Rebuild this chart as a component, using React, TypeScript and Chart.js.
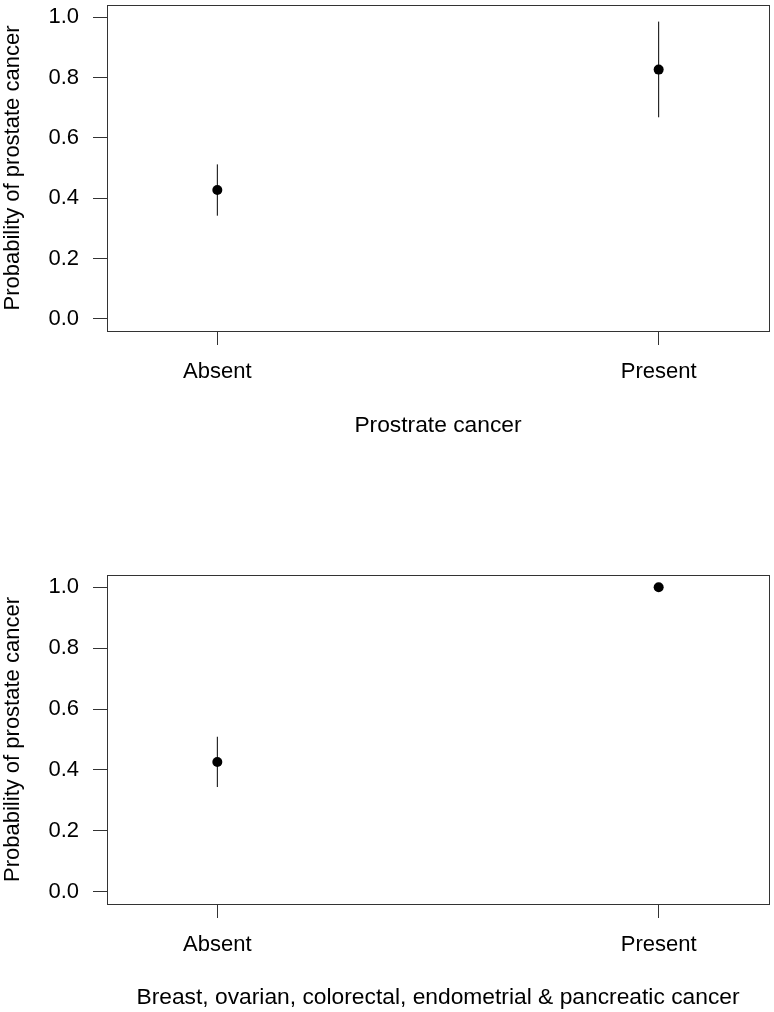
import React, { useEffect, useRef } from "react";
import { Chart, registerables } from "chart.js";

Chart.register(...registerables);

// ---- data ----
const categories = ["Absent", "Present"];
const yTickValues = [0, 0.2, 0.4, 0.6, 0.8, 1.0];
const yAxisTitle = "Probability of prostate cancer";

const prostateTitle = "Prostrate cancer";
const prostateEstimate = [0.427, 0.826];
const prostateLower = [0.342, 0.668];
const prostateUpper = [0.512, 0.985];

const otherTitle = "Breast, ovarian, colorectal, endometrial & pancreatic cancer";
const otherEstimate = [0.426, 1.0];
const otherLower = [0.344, 1.0];
const otherUpper = [0.509, 1.0];

// ---- styling ----
const FONT_FAMILY = "'Liberation Sans', Arial, Helvetica, sans-serif";
const FONT_SIZE = 22;
const X_TITLE_SIZE = 22.8;
const LINE_COLOR = "#333333";
const W = 774;
const PANEL_H = 506;

const boxPlugin = {
  id: "rbox",
  afterDraw(chart: any) {
    const { ctx, chartArea: a } = chart;
    ctx.save();
    ctx.strokeStyle = LINE_COLOR;
    ctx.lineWidth = 1;
    const l = Math.round(a.left);
    const t = Math.round(a.top);
    const r = Math.round(a.right);
    const b = Math.round(a.bottom);
    ctx.strokeRect(l + 0.5, t + 0.5, r - l, b - t);
    ctx.restore();
  },
};

function makeConfig(
  est: number[],
  lo: number[],
  hi: number[],
  xTitle: string,
  padTop: number,
  xHeight: number,
  titlePadBottom: number
): any {
  const font = { family: FONT_FAMILY, size: FONT_SIZE, weight: "normal" as const };
  const titleFont = { family: FONT_FAMILY, size: X_TITLE_SIZE, weight: "normal" as const };
  const errorSets = categories.map((_, i) => ({
    data: [
      { x: i + 1, y: lo[i] },
      { x: i + 1, y: hi[i] },
    ],
    showLine: true,
    borderColor: "#000000",
    borderWidth: 1,
    pointRadius: 0,
    pointHoverRadius: 0,
  }));
  const pointSet = {
    data: est.map((v, i) => ({ x: i + 1, y: v })),
    showLine: false,
    pointRadius: 5,
    pointHoverRadius: 5,
    pointBackgroundColor: "#000000",
    pointBorderWidth: 0,
    borderColor: "#000000",
  };
  return {
    type: "scatter",
    data: { datasets: [...errorSets, pointSet] },
    plugins: [boxPlugin],
    options: {
      responsive: false,
      maintainAspectRatio: false,
      devicePixelRatio: 1,
      animation: false,
      layout: { padding: { top: padTop, right: 2, left: 0, bottom: 0 } },
      plugins: { legend: { display: false }, tooltip: { enabled: false } },
      scales: {
        x: {
          type: "linear",
          min: 0.75,
          max: 2.25,
          afterBuildTicks: (s: any) => {
            s.ticks = categories.map((_, i) => ({ value: i + 1 }));
          },
          ticks: {
            callback: (v: any) => categories[Math.round(Number(v)) - 1] ?? "",
            font,
            color: "#000000",
            padding: 14,
            maxRotation: 0,
            autoSkip: false,
          },
          grid: {
            drawOnChartArea: false,
            drawTicks: true,
            tickLength: 14,
            color: LINE_COLOR,
            lineWidth: 1,
          },
          border: { display: false },
          title: {
            display: true,
            text: xTitle,
            font: titleFont,
            color: "#000000",
            padding: { top: 0, bottom: titlePadBottom },
          },
          afterFit: (s: any) => {
            s.height = xHeight;
            s.paddingLeft = 0;
            s.paddingRight = 0;
            s.paddingTop = 0;
            s.paddingBottom = 0;
          },
        },
        y: {
          type: "linear",
          min: -0.04,
          max: 1.04,
          afterBuildTicks: (s: any) => {
            s.ticks = yTickValues.map((v) => ({ value: v }));
          },
          ticks: {
            callback: (v: any) => Number(v).toFixed(1),
            font,
            color: "#000000",
            padding: 14,
            autoSkip: false,
          },
          grid: {
            drawOnChartArea: false,
            drawTicks: true,
            tickLength: 14,
            color: LINE_COLOR,
            lineWidth: 1,
          },
          border: { display: false },
          title: {
            display: true,
            text: yAxisTitle,
            font,
            color: "#000000",
            padding: { top: 0, bottom: 0 },
          },
          afterFit: (s: any) => {
            s.width = 107;
            s.paddingLeft = 0;
            s.paddingRight = 0;
            s.paddingTop = 0;
            s.paddingBottom = 0;
          },
        },
      },
    },
  };
}

function Panel(props: {
  est: number[];
  lo: number[];
  hi: number[];
  xTitle: string;
  padTop: number;
  xHeight: number;
  titlePadBottom: number;
}) {
  const ref = useRef<HTMLCanvasElement | null>(null);
  useEffect(() => {
    if (!ref.current) return;
    const chart = new Chart(
      ref.current,
      makeConfig(
        props.est,
        props.lo,
        props.hi,
        props.xTitle,
        props.padTop,
        props.xHeight,
        props.titlePadBottom
      )
    );
    return () => chart.destroy();
  }, []);
  return (
    <canvas
      ref={ref}
      width={W}
      height={PANEL_H}
      style={{ display: "block", width: W, height: PANEL_H }}
    />
  );
}

export default function App() {
  return (
    <div
      style={{
        position: "absolute",
        left: 0,
        top: 0,
        width: W,
        height: PANEL_H * 2,
        background: "#ffffff",
      }}
    >
      <Panel
        est={prostateEstimate}
        lo={prostateLower}
        hi={prostateUpper}
        xTitle={prostateTitle}
        padTop={3}
        xHeight={175}
        titlePadBottom={67}
      />
      <Panel
        est={otherEstimate}
        lo={otherLower}
        hi={otherUpper}
        xTitle={otherTitle}
        padTop={69}
        xHeight={108}
        titlePadBottom={1}
      />
    </div>
  );
}
